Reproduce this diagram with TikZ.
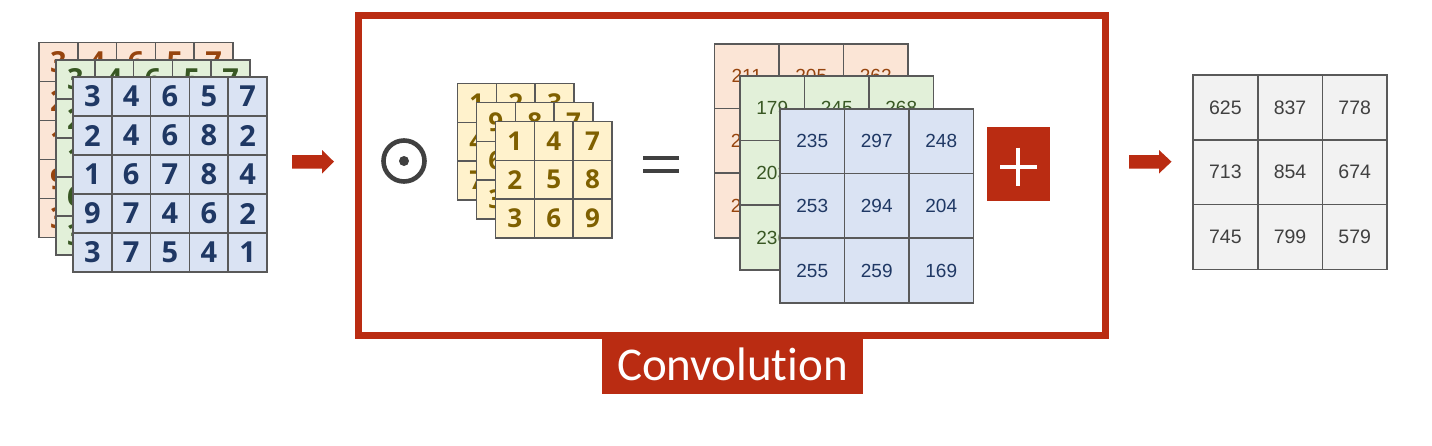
\documentclass[tikz,border=0pt]{standalone}
\usepackage{fontspec}
\setmainfont{Liberation Sans}
\newfontfamily\digfont{Open Sans}
\newfontfamily\labfont[Ligatures=NoCommon]{Carlito}
\definecolor{cred}{RGB}{186,44,18}
\definecolor{gline}{RGB}{89,89,89}
\definecolor{fora}{RGB}{251,229,214}
\definecolor{fgre}{RGB}{226,240,217}
\definecolor{fblu}{RGB}{218,227,243}
\definecolor{fyel}{RGB}{255,242,204}
\definecolor{fgry}{RGB}{242,242,242}
\definecolor{tora}{RGB}{150,68,14}
\definecolor{tgre}{RGB}{56,87,35}
\definecolor{tblu}{RGB}{31,56,100}
\definecolor{tyel}{RGB}{127,96,0}
\definecolor{tgry}{RGB}{64,64,64}
\newcommand\mygrid[7]{% name, x0, y0, cellw, cellh, style, rows
  \foreach \myrow [count=\r] in {#7} {
    \foreach \v [count=\c] in \myrow {
      \node[cellbox, #6, minimum width=#4pt, minimum height=#5pt]
        (#1-\r-\c) at ({#2+(\c-0.5)*#4},{#3+(\r-0.5)*#5}) {\v};
    }
  }
}
\begin{document}
\begin{tikzpicture}[x=1pt,y=-1pt,
  cellbox/.style={draw=gline, line width=1.6pt, inner sep=0pt, anchor=center},
  bigdig/.style={font=\digfont\bfseries\fontsize{29}{29}\selectfont},
  kerdig/.style={font=\digfont\bfseries\fontsize{26}{26}\selectfont, fill=fyel, text=tyel},
  smdig/.style={font=\fontsize{19}{19}\selectfont},
  arrowfill/.style={fill=cred},
  darkstroke/.style={draw=tgry}
]
\useasboundingbox (0,0) rectangle (1432,445);
\fill[white] (0,0) rectangle (1432,445);

% left input stack
\mygrid{LO}{39}{42.5}{38.8}{39}{bigdig, fill=fora, text=tora}{{3,4,6,5,7},{2,4,6,8,2},{1,6,7,8,4},{9,7,4,6,2},{3,7,5,4,1}}
\mygrid{LG}{56}{60}{38.8}{39}{bigdig, fill=fgre, text=tgre}{{3,4,6,5,7},{2,4,6,8,2},{1,6,7,8,4},{6,7,4,6,2},{3,7,5,4,1}}
\mygrid{LB}{73}{77}{38.8}{39}{bigdig, fill=fblu, text=tblu}{{3,4,6,5,7},{2,4,6,8,2},{1,6,7,8,4},{9,7,4,6,2},{3,7,5,4,1}}

% arrows
\fill[arrowfill] (292,155) -- (322,155) -- (322,150) -- (334,161.7) -- (322,173.5) -- (322,168.5) -- (292,168.5) -- cycle;
\fill[arrowfill] (1129,155) -- (1159,155) -- (1159,150) -- (1171.5,161.7) -- (1159,173.5) -- (1159,168.5) -- (1129,168.5) -- cycle;

% frame
\node[draw=cred, line width=7pt, minimum width=746.5pt, minimum height=320pt, inner sep=0pt] (frame) at (731.85,175) {};

% odot
\node[circle, darkstroke, line width=4.6pt, minimum size=41pt, inner sep=0pt] (odot) at (404,161) {};
\fill[tgry] (odot.center) circle (5);

% kernels
\mygrid{KA}{457.5}{83.5}{38.8}{38.8}{kerdig}{{1,2,3},{4,5,6},{7,8,9}}
\mygrid{KB}{476.5}{102.5}{38.8}{38.8}{kerdig}{{9,8,7},{6,5,4},{3,2,1}}
\mygrid{KC}{495.5}{121.5}{38.8}{38.8}{kerdig}{{1,4,7},{2,5,8},{3,6,9}}

% equals
\fill[tgry] (643,156) rectangle (679,160);
\fill[tgry] (643,168.5) rectangle (679,172.5);

% middle stack
\mygrid{MO}{714.5}{44}{64.5}{64.6}{smdig, fill=fora, text=tora}{{211,205,262},{246,231,257},{228,219,240}}
\mygrid{MG}{740}{76}{64.5}{64.6}{smdig, fill=fgre, text=tgre}{{179,245,268},{203,226,214},{236,241,199}}
\mygrid{MB}{780}{109}{64.5}{64.6}{smdig, fill=fblu, text=tblu}{{235,297,248},{253,294,204},{255,259,169}}

% plus
\node[fill=cred, minimum width=63pt, minimum height=74pt, inner sep=0pt] (plus) at (1018.5,164) {};
\draw[white, line width=3.8pt] (1000,166.7) -- (1036.7,166.7);
\draw[white, line width=3.8pt] (1018.3,147.7) -- (1018.3,185.7);

% result
\mygrid{R}{1193}{75}{64.7}{64.8}{smdig, fill=fgry, text=tgry, font=\fontsize{19.5}{19.5}\selectfont}{{625,837,778},{713,854,674},{745,799,579}}

% label
\node[fill=cred, text=white, minimum width=261pt, minimum height=58pt, inner sep=0pt, font=\labfont\fontsize{47}{47}\selectfont] (lab) at (732.5,364.5) {Convolution};
\end{tikzpicture}
\end{document}
